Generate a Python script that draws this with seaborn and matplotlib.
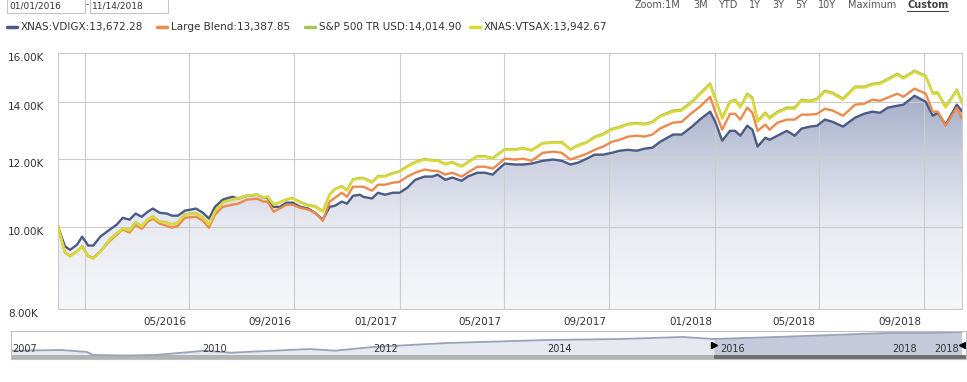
import numpy as np
import pandas as pd
import seaborn as sns
import matplotlib.pyplot as plt
import matplotlib.transforms as mtransforms
from matplotlib.colors import LinearSegmentedColormap
from matplotlib.patches import Rectangle
from matplotlib.lines import Line2D

# ---- data (growth of 10K) ----
start_date = pd.Timestamp("2016-01-01")
end_date = pd.Timestamp("2018-11-14")

day_offsets = [0, 8, 14, 22, 28, 35, 41, 49, 60, 68, 75, 83, 90, 97, 104, 110, 118, 126, 132, 139,
               147, 160, 168, 175, 182, 191, 202, 209, 219, 231, 238, 243, 250, 257, 265, 272, 281, 290, 298, 307,
               315, 321, 329, 335, 342, 350, 354, 364, 371, 379, 388, 396, 405, 414, 425, 434, 440, 449, 457, 468,
               475, 486, 495, 504, 510, 518, 530, 539, 549, 562, 574, 584, 594, 603, 613, 622, 632, 642, 651, 661,
               671, 680, 689, 698, 713, 723, 735, 744, 756, 762, 770, 779, 785, 791, 799, 805, 811, 820, 825, 834,
               845, 854, 862, 872, 880, 889, 898, 910, 924, 935, 944, 953, 962, 973, 980, 993, 1006, 1014, 1020, 1029,
               1042, 1048]

vdigx = [10000, 9480, 9390, 9520, 9730, 9500, 9500, 9730, 9920, 10050, 10240, 10190, 10360, 10270, 10410, 10500, 10380, 10360, 10300, 10300,
         10440, 10500, 10380, 10220, 10550, 10760, 10840, 10790, 10870, 10900, 10810, 10810, 10550, 10550, 10670, 10670, 10550, 10500, 10380, 10190,
         10550, 10580, 10700, 10640, 10870, 10900, 10840, 10790, 10960, 10900, 10960, 10960, 11110, 11350, 11450, 11450, 11510, 11350, 11420, 11320,
         11450, 11570, 11570, 11510, 11670, 11860, 11830, 11830, 11860, 11950, 11990, 11950, 11830, 11890, 12020, 12150, 12150, 12210, 12280, 12310,
         12280, 12350, 12380, 12580, 12830, 12830, 13110, 13360, 13650, 13280, 12620, 12960, 12960, 12790, 13140, 13000, 12420, 12720, 12650, 12790,
         12960, 12790, 13040, 13110, 13140, 13360, 13280, 13110, 13430, 13580, 13650, 13610, 13800, 13870, 13910, 14250, 14020, 13500, 13610, 13180,
         13910, 13672.28]

large_blend = [10000, 9330, 9240, 9350, 9480, 9230, 9190, 9350, 9620, 9780, 9920, 9840, 10050, 9940, 10130, 10220, 10080, 10020, 9970, 10020,
               10240, 10270, 10160, 9970, 10330, 10550, 10610, 10640, 10760, 10780, 10700, 10700, 10410, 10500, 10610, 10610, 10520, 10470, 10380, 10160,
               10700, 10810, 10960, 10840, 11140, 11140, 11140, 11020, 11200, 11200, 11260, 11290, 11450, 11570, 11670, 11630, 11630, 11510, 11570, 11450,
               11570, 11760, 11760, 11700, 11830, 12020, 11990, 12020, 11950, 12210, 12250, 12210, 11990, 12080, 12180, 12310, 12420, 12580, 12650, 12760,
               12790, 12760, 12830, 13040, 13250, 13280, 13610, 13830, 14210, 13650, 13000, 13570, 13570, 13360, 13800, 13610, 12960, 13180, 13000, 13250,
               13360, 13360, 13540, 13540, 13570, 13760, 13690, 13500, 13910, 13950, 14100, 14060, 14180, 14330, 14210, 14530, 14330, 13650, 13650, 13140,
               13800, 13387.85]

sp500 = [10000, 9330, 9230, 9350, 9480, 9230, 9180, 9350, 9660, 9820, 9950, 9900, 10120, 10010, 10200, 10280, 10140, 10120, 10060, 10120,
         10340, 10370, 10250, 10060, 10420, 10680, 10770, 10800, 10880, 10910, 10820, 10850, 10620, 10680, 10770, 10800, 10690, 10600, 10570, 10430,
         10920, 11070, 11160, 11040, 11370, 11410, 11410, 11280, 11470, 11470, 11560, 11620, 11780, 11910, 12010, 11970, 11970, 11850, 11910, 11780,
         11910, 12100, 12100, 12040, 12170, 12330, 12330, 12370, 12300, 12540, 12570, 12570, 12330, 12470, 12570, 12750, 12860, 13030, 13100, 13210,
         13240, 13210, 13280, 13500, 13690, 13730, 14030, 14330, 14730, 14150, 13430, 14030, 14100, 13840, 14330, 14180, 13320, 13620, 13430, 13650,
         13800, 13800, 14100, 14060, 14140, 14450, 14370, 14140, 14610, 14610, 14720, 14760, 14920, 15130, 14970, 15250, 15040, 14370, 14370, 13840,
         14490, 14014.90]

vtsax = [10000, 9320, 9220, 9340, 9470, 9220, 9170, 9340, 9650, 9810, 9940, 9890, 10110, 10000, 10190, 10270, 10130, 10110, 10050, 10110,
         10330, 10360, 10240, 10050, 10410, 10670, 10760, 10790, 10870, 10900, 10810, 10840, 10610, 10670, 10760, 10790, 10670, 10580, 10550, 10410,
         10900, 11050, 11140, 11020, 11350, 11390, 11390, 11260, 11450, 11450, 11540, 11600, 11760, 11890, 11990, 11950, 11950, 11830, 11890, 11760,
         11890, 12080, 12080, 12020, 12150, 12310, 12310, 12350, 12280, 12520, 12550, 12550, 12310, 12450, 12550, 12720, 12830, 13000, 13070, 13180,
         13210, 13180, 13250, 13470, 13650, 13690, 13990, 14290, 14680, 14100, 13390, 13990, 14060, 13800, 14290, 14140, 13280, 13580, 13390, 13610,
         13760, 13760, 14060, 14020, 14100, 14410, 14330, 14100, 14570, 14570, 14680, 14720, 14880, 15090, 14930, 15210, 15000, 14330, 14330, 13800,
         14450, 13942.67]

series_names = ["XNAS:VDIGX", "Large Blend", "S&P 500 TR USD", "XNAS:VTSAX"]
series_colors = ["#4b5b84", "#ec8a4c", "#a8c554", "#dcd936"]
ending_values = ["13,672.28", "13,387.85", "14,014.90", "13,942.67"]

y_ticks = [8000, 10000, 12000, 14000, 16000]
y_tick_labels = ["8.00K", "10.00K", "12.00K", "14.00K", "16.00K"]
grid_dates = ["2016-02-01", "2016-06-01", "2016-10-01", "2017-02-01", "2017-06-01",
              "2017-10-01", "2018-02-01", "2018-06-01", "2018-10-01"]
x_tick_labels = ["", "05/2016", "09/2016", "01/2017", "05/2017", "09/2017", "01/2018", "05/2018", "09/2018"]

# overview navigator (long history, thousands)
nav_years = [2007.87, 2008.45, 2008.74, 2008.81, 2009.20, 2009.53, 2010.11, 2010.40, 2011.32, 2011.61,
             2012.05, 2012.91, 2014.07, 2014.92, 2015.64, 2016.00, 2016.72, 2018.01, 2018.52, 2018.87]
nav_values = [10.0, 10.35, 9.35, 7.85, 7.6, 7.85, 10.0, 9.0, 10.85, 10.0,
              11.85, 13.85, 15.35, 15.85, 16.85, 15.85, 16.85, 18.85, 18.85, 19.35]
nav_year_labels = ["2007", "2010", "2012", "2014", "2016", "2018"]
nav_label_pos = [2007.88, 2010.07, 2012.05, 2014.07, 2016.07, 2018.07]
sel_start, sel_end = 2016.0, 2018.87

zoom_items = ["Zoom:1M", "3M", "YTD", "1Y", "3Y", "5Y", "10Y", "Maximum"]
zoom_x = [635, 693, 718, 749, 772, 795, 818, 848]

# ---- figure ----
sns.set_style("white")
plt.rcParams["font.family"] = ["DejaVu Sans"]
W, H = 967, 382
fig = plt.figure(figsize=(W / 100, H / 100), dpi=100)
fig.patch.set_facecolor("white")

ax = fig.add_axes([58 / W, 1 - 309 / H, 904 / W, 256 / H])

dates = [start_date + pd.Timedelta(days=d) for d in day_offsets]
df = pd.concat([pd.DataFrame({"date": dates, "value": vals, "series": name})
                for name, vals in zip(series_names, [vdigx, large_blend, sp500, vtsax])])

ax.set_yscale("log")

# gradient fill under VDIGX
cmap = LinearSegmentedColormap.from_list("fill", [
    (0.0, (247 / 255, 247 / 255, 250 / 255)),
    (0.32, (233 / 255, 235 / 255, 242 / 255)),
    (0.58, (203 / 255, 208 / 255, 224 / 255)),
    (0.80, (170 / 255, 178 / 255, 204 / 255)),
    (1.0, (146 / 255, 157 / 255, 189 / 255))])
grad = np.linspace(1, 0, 256).reshape(-1, 1)
poly = ax.fill_between(dates, vdigx, 8000, color="none", lw=0)
im = ax.imshow(grad, extent=[0, 1, 0, 1], transform=ax.transAxes, aspect="auto",
               cmap=cmap, zorder=0.2, interpolation="bilinear")
im.set_clip_path(poly.get_paths()[0], ax.transData)

sns.lineplot(data=df, x="date", y="value", hue="series", hue_order=series_names,
             palette=dict(zip(series_names, series_colors)), linewidth=1.7,
             legend=False, sort=False, estimator=None, ax=ax, zorder=3)

ax.set_xlim(start_date, end_date)
ax.set_ylim(8000, 16000)
ax.set_yticks(y_ticks)
ax.minorticks_off()
ax.set_yticklabels([])
ax.set_xticks(pd.to_datetime(grid_dates))
ax.set_xticklabels(x_tick_labels, ha="right", fontsize=7.5, color="#333333")
ax.tick_params(axis="x", length=0, pad=6)
ax.tick_params(axis="y", length=0)
for lbl in ax.get_xticklabels():
    lbl.set_transform(lbl.get_transform() + mtransforms.ScaledTranslation(-3 / 100, 0, fig.dpi_scale_trans))
ax.set_xlabel("")
ax.set_ylabel("")
ax.set_axisbelow(True)
ax.grid(True, color="#cccccc", linewidth=0.8)
for s in ax.spines.values():
    s.set_color("#cccccc")
    s.set_linewidth(0.8)

ylab_tr = mtransforms.blended_transform_factory(fig.transFigure, ax.transData)
for v, t in zip(y_ticks, y_tick_labels):
    ax.text(8 / W, v, t, transform=ylab_tr, ha="left", va="top", fontsize=7.5,
            color="#333333", clip_on=False)

# ---- header: date boxes, legend, zoom row ----
fig.add_artist(Rectangle((7 / W, 1 - 13 / H), 78 / W, 16 / H, transform=fig.transFigure,
                         fill=False, ec="#c4c4c4", lw=0.8))
fig.add_artist(Rectangle((90 / W, 1 - 13 / H), 78 / W, 16 / H, transform=fig.transFigure,
                         fill=False, ec="#c4c4c4", lw=0.8))
fig.text(9 / W, 1 - 6 / H, "01/01/2016", fontsize=6.5, color="#333333", va="center", ha="left")
fig.text(86 / W, 1 - 5 / H, "-", fontsize=6.5, color="#333333", va="center", ha="left")
fig.text(92 / W, 1 - 6 / H, "11/14/2018", fontsize=6.5, color="#333333", va="center", ha="left")

legend_x = [7, 157, 305, 470]
for lx, name, col, val in zip(legend_x, series_names, series_colors, ending_values):
    fig.add_artist(Line2D([lx / W, (lx + 10) / W], [1 - 27 / H] * 2, color=col, lw=2.5,
                          transform=fig.transFigure))
    fig.text((lx + 14) / W, 1 - 27 / H, f"{name}:{val}", fontsize=7.5, color="#333333",
             va="center", ha="left")

for zx, zt in zip(zoom_x, zoom_items):
    fig.text(zx / W, 1 - 5 / H, zt, fontsize=7, color="#555555", va="center", ha="left")
fig.text(907 / W, 1 - 5 / H, "Custom", fontsize=7, color="#444444", va="center", ha="left",
         fontweight="bold")
fig.add_artist(Line2D([907 / W, 948 / W], [1 - 10.5 / H] * 2, color="#444444", lw=0.8,
                      transform=fig.transFigure))

# ---- navigator ----
nav = fig.add_axes([11 / W, 1 - 359 / H, 955 / W, 28 / H])
nav.set_xlim(2007.86, 2018.92)
nav.set_ylim(5.85, 19.85)
nyears = np.array(nav_years)
nvals = np.array(nav_values)
left = nyears <= sel_start
right = nyears >= sel_start
nav.fill_between(nyears[left], nvals[left], 5.85, color="#e7e9f0", lw=0)
nav.fill_between(nyears[right], nvals[right], 5.85, color="#c4cadb", lw=0)
sns.lineplot(x=nav_years, y=nav_values, color="#9aa2b8", linewidth=1.3, sort=False,
             estimator=None, ax=nav)
nav.fill_between([2007.86, sel_start], 5.85, 7.7, color="#b3b3b3", lw=0)
nav.fill_between([sel_start, 2018.92], 5.85, 7.7, color="#6f6f6f", lw=0)
nav.set_xticks([])
nav.set_yticks([])
for s in nav.spines.values():
    s.set_color("#c0c0c0")
    s.set_linewidth(0.8)
nav_tr = mtransforms.blended_transform_factory(nav.transData, nav.transAxes)
for xp, t in zip(nav_label_pos, nav_year_labels):
    nav.text(xp, 0.36, t, transform=nav_tr, fontsize=7, color="#333333", ha="left", va="center")
nav.text(sel_end - 0.03, 0.36, "2018", transform=nav_tr, fontsize=7, color="#333333",
         ha="right", va="center")
nav.plot([sel_start], [0.5], marker=">", color="black", markersize=5, transform=nav_tr, clip_on=False)
nav.plot([sel_end], [0.5], marker="<", color="black", markersize=5, transform=nav_tr, clip_on=False)

fig.savefig("out.png", dpi=100)
